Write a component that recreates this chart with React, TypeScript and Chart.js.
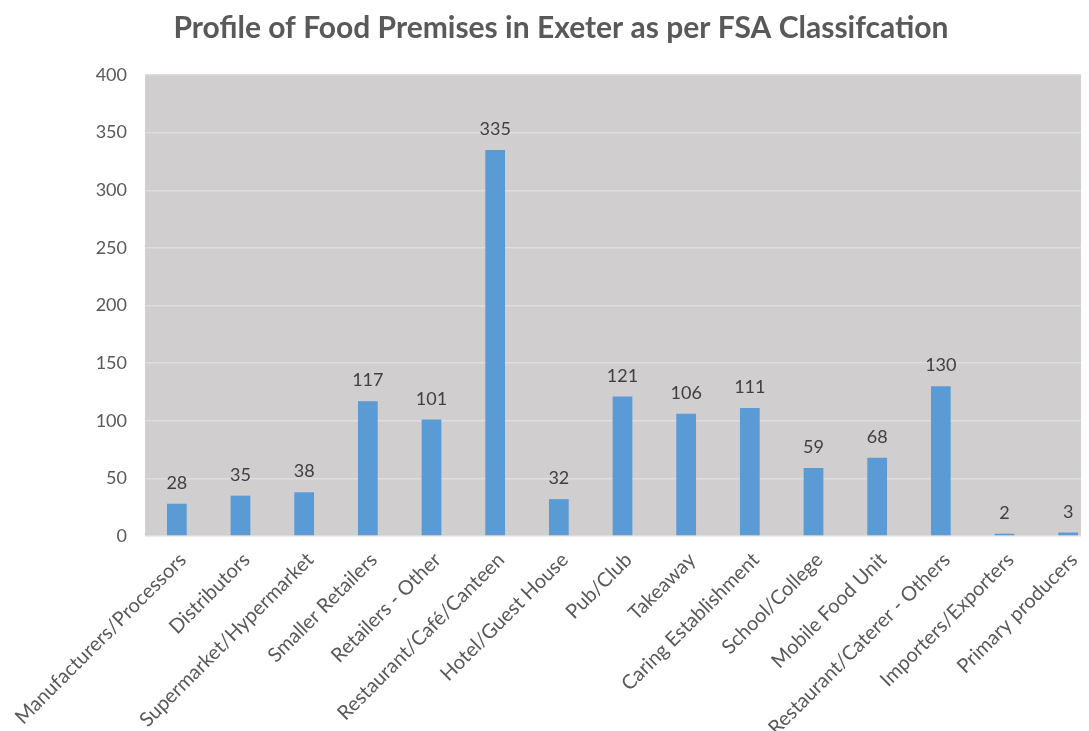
import React, { useEffect, useRef } from "react";
import { Chart, registerables } from "chart.js";

Chart.register(...registerables);

const chartTitle = "Profile of Food Premises in Exeter as per FSA Classifcation";

const categories = [
  "Manufacturers/Processors",
  "Distributors",
  "Supermarket/Hypermarket",
  "Smaller Retailers",
  "Retailers - Other",
  "Restaurant/Café/Canteen",
  "Hotel/Guest House",
  "Pub/Club",
  "Takeaway",
  "Caring Establishment",
  "School/College",
  "Mobile Food Unit",
  "Restaurant/Caterer - Others",
  "Importers/Exporters",
  "Primary producers",
];

const premises = [28, 35, 38, 117, 101, 335, 32, 121, 106, 111, 59, 68, 130, 2, 3];

const yMin = 0;
const yMax = 400;
const yStep = 50;

const plotBackground = {
  id: "plotBackground",
  beforeDraw(chart: any) {
    const { ctx, chartArea } = chart;
    ctx.save();
    ctx.fillStyle = "#d0cece";
    ctx.fillRect(chartArea.left, chartArea.top, chartArea.right - chartArea.left, chartArea.bottom - chartArea.top);
    ctx.restore();
  },
};

const titleDraw = {
  id: "titleDraw",
  afterDraw(chart: any) {
    const { ctx } = chart;
    ctx.save();
    ctx.fillStyle = "#595959";
    ctx.font = "bold 30px Lato";
    ctx.textAlign = "center";
    ctx.textBaseline = "middle";
    ctx.fillText(chartTitle, 553, 20);
    ctx.restore();
  },
};

const valueLabels = {
  id: "valueLabels",
  afterDatasetsDraw(chart: any) {
    const { ctx } = chart;
    const meta = chart.getDatasetMeta(0);
    const data = chart.data.datasets[0].data;
    ctx.save();
    ctx.fillStyle = "#404040";
    ctx.font = "18px Lato";
    ctx.textAlign = "center";
    ctx.textBaseline = "alphabetic";
    meta.data.forEach((bar: any, i: number) => {
      ctx.fillText(String(data[i]), bar.x, bar.y - 15);
    });
    ctx.restore();
  },
};

export default function App() {
  const ref = useRef<HTMLCanvasElement>(null);

  useEffect(() => {
    document.body.style.overflow = "hidden";
    const chart = new Chart(ref.current!, {
      type: "bar",
      data: {
        labels: categories,
        datasets: [
          {
            data: premises,
            backgroundColor: "#5b9bd5",
            barPercentage: 0.62,
            categoryPercentage: 0.5,
          },
        ],
      },
      options: {
        responsive: false,
        animation: false,
        devicePixelRatio: 1,
        layout: { padding: { left: 0, right: 0, top: 67, bottom: 0 } },
        plugins: {
          legend: { display: false },
          tooltip: { enabled: false },
          title: { display: false },
        },
        scales: {
          x: {
            grid: { display: false },
            border: { display: false },
            ticks: {
              autoSkip: false,
              minRotation: 45,
              maxRotation: 45,
              padding: 4,
              labelOffset: 6,
              color: "#595959",
              font: { family: "Lato", size: 20 },
            },
            afterFit(scale: any) {
              scale.height = 195;
              scale.paddingLeft = 0;
              scale.paddingRight = 0;
            },
          },
          y: {
            min: yMin,
            max: yMax,
            ticks: {
              stepSize: yStep,
              padding: 18,
              color: "#595959",
              font: { family: "Lato", size: 18 },
            },
            grid: { color: "#dedede", drawTicks: false, lineWidth: 1.5 },
            border: { display: false },
            afterFit(scale: any) {
              scale.width = 137;
            },
          },
        },
      },
      plugins: [plotBackground, valueLabels, titleDraw],
    });
    return () => chart.destroy();
  }, []);

  return (
    <div style={{ width: 1081, height: 723, overflow: "hidden" }}>
      <canvas ref={ref} width={1092} height={723} />
    </div>
  );
}
